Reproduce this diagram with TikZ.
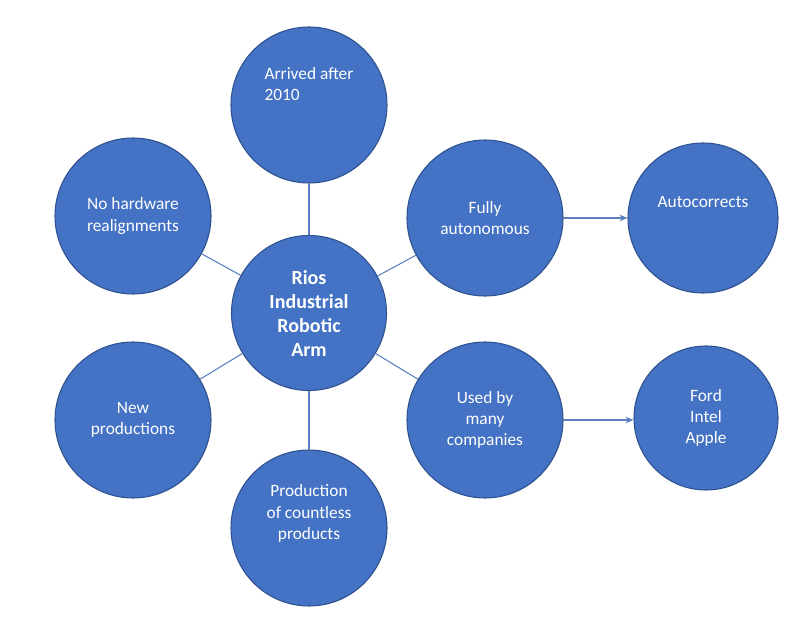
\documentclass[tikz,border=0pt]{standalone}
\usepackage{fontspec}
\setmainfont{Carlito}
\usetikzlibrary{arrows.meta}
\definecolor{fillb}{HTML}{4472C4}
\definecolor{edgeb}{HTML}{2F528F}
\definecolor{lineb}{HTML}{5B7FBF}
\begin{document}
\begin{tikzpicture}[x=0.75pt,y=-0.75pt,
  c/.style={circle,fill=fillb,draw=edgeb,line width=0.8pt,minimum size=#1*0.75pt,inner sep=0pt,text=white,font=\fontsize{13}{16}\selectfont,align=center},
  ln/.style={draw=lineb,line width=0.8pt},
  ar/.style={ln,-{Stealth[length=6pt,width=5pt]}}]
\useasboundingbox (0,0) rectangle (804,631);
\node[c=155,font=\bfseries\fontsize{15}{18}\selectfont] (m) at (309,313) {Rios\\Industrial\\Robotic\\Arm};
\node[c=156,align=left] (t) at (309,105) {Arrived after\\2010\\[1.2em]};
\node[c=156] (ul) at (133,216) {No hardware\\realignments};
\node[c=156] (ur) at (485,218) {Fully\\autonomous};
\node[c=150] (ac) at (703,218) {Autocorrects\\[0.6em]};
\node[c=156] (ll) at (133,420) {New\\productions};
\node[c=156] (lr) at (485,420) {Used by\\many\\companies};
\node[c=144] (fd) at (706,418) {Ford\\Intel\\Apple};
\node[c=156] (b) at (309,528) {Production\\of countless\\products\\[0.6em]};
\foreach \n in {t,ul,ur,ll,lr,b} \draw[ln] (m) -- (\n);
\draw[ar] (ur) -- (ac);
\draw[ar] (lr.east) -- (fd.west|-lr.east);
\end{tikzpicture}
\end{document}
